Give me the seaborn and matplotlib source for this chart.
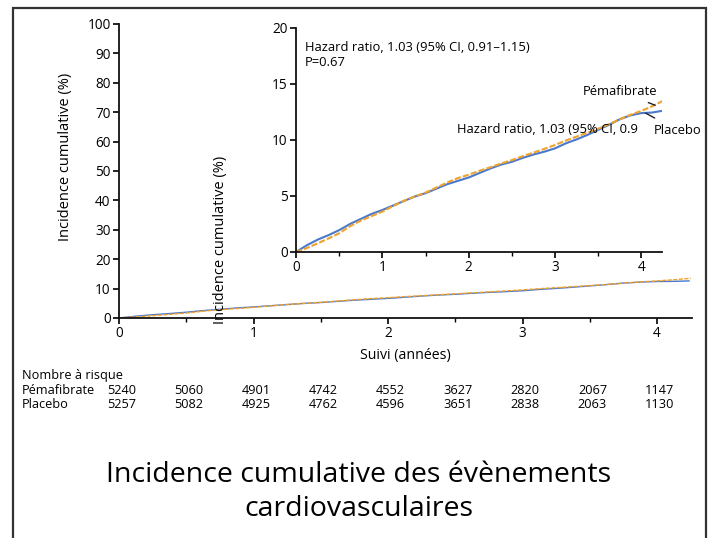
import numpy as np
import pandas as pd
import matplotlib
matplotlib.use("Agg")
import matplotlib.pyplot as plt
from matplotlib.ticker import MultipleLocator
from matplotlib.patches import Rectangle
from matplotlib.transforms import blended_transform_factory
import seaborn as sns

# Cumulative incidence (%) by follow-up year, per treatment arm
annees_placebo = [0, 0.125, 0.25, 0.375, 0.5, 0.625, 0.75, 0.875, 1.0, 1.125, 1.25, 1.375,
                  1.5, 1.625, 1.75, 1.875, 2.0, 2.125, 2.25, 2.375, 2.5, 2.625, 2.75, 2.875,
                  3.0, 3.125, 3.25, 3.375, 3.5, 3.625, 3.75, 3.875, 4.0, 4.125, 4.24]
incidence_placebo = [0, 0.6, 1.1, 1.5, 1.95, 2.5, 2.95, 3.4, 3.75, 4.15, 4.55, 4.95,
                     5.25, 5.65, 6.05, 6.35, 6.65, 7.05, 7.45, 7.8, 8.05, 8.4, 8.7, 8.95,
                     9.25, 9.7, 10.05, 10.45, 10.9, 11.35, 11.85, 12.2, 12.4, 12.45, 12.6]
annees_pema = [0, 0.125, 0.25, 0.375, 0.5, 0.625, 0.75, 0.875, 1.0, 1.125, 1.25, 1.375,
               1.5, 1.625, 1.75, 1.875, 2.0, 2.125, 2.25, 2.375, 2.5, 2.625, 2.75, 2.875,
               3.0, 3.125, 3.25, 3.375, 3.5, 3.625, 3.75, 3.875, 4.0, 4.125, 4.25]
incidence_pema = [0, 0.35, 0.77, 1.2, 1.67, 2.3, 2.8, 3.2, 3.6, 4.1, 4.58, 4.95,
                  5.3, 5.75, 6.2, 6.6, 6.9, 7.25, 7.56, 7.9, 8.2, 8.55, 8.87, 9.2,
                  9.55, 9.95, 10.3, 10.65, 11.0, 11.4, 11.85, 12.25, 12.6, 13.0, 13.5]

# Number at risk table
temps_risque = [0, 0.5, 1.0, 1.5, 2.0, 2.5, 3.0, 3.5, 4.0]
risque_pema = [5240, 5060, 4901, 4742, 4552, 3627, 2820, 2067, 1147]
risque_placebo = [5257, 5082, 4925, 4762, 4596, 3651, 2838, 2063, 1130]

groupes = ["Placebo", "Pémafibrate"]
couleurs = {"Placebo": "#4a78cc", "Pémafibrate": "#f0a22e"}
tirets = {"Placebo": "", "Pémafibrate": (3, 1)}

df = pd.concat([
    pd.DataFrame({"annees": annees_placebo, "incidence": incidence_placebo, "groupe": "Placebo"}),
    pd.DataFrame({"annees": annees_pema, "incidence": incidence_pema, "groupe": "Pémafibrate"}),
], ignore_index=True)

sns.set_theme(style="ticks")
plt.rcParams["font.family"] = ["Open Sans", "DejaVu Sans"]
plt.rcParams["text.color"] = "black"
plt.rcParams["axes.labelcolor"] = "black"
plt.rcParams["xtick.color"] = "black"
plt.rcParams["ytick.color"] = "black"

fig = plt.figure(figsize=(7.14, 5.38), dpi=100)
fig.patch.set_facecolor("white")

ax = fig.add_axes([0.1667, 0.409, 0.8025, 0.5465])
ax_in = fig.add_axes([0.4146, 0.5316, 0.5126, 0.4164])


def style_axes(a, xmax, ymax, ystep):
    a.set_facecolor("none")
    sns.despine(ax=a)
    for s in ("left", "bottom"):
        a.spines[s].set_linewidth(1.3)
        a.spines[s].set_color("#111111")
    a.set_xlim(0, xmax)
    a.set_ylim(0, ymax)
    a.xaxis.set_major_locator(MultipleLocator(1))
    a.xaxis.set_minor_locator(MultipleLocator(0.5))
    a.yaxis.set_major_locator(MultipleLocator(ystep))
    a.tick_params(which="major", direction="out", length=4, width=1.2, labelsize=9.8, pad=2)
    a.tick_params(which="minor", direction="out", length=3, width=1.0)
    a.set_xlabel("")
    a.set_ylabel("")


# Full-scale view
sns.lineplot(data=df, x="annees", y="incidence", hue="groupe", style="groupe",
             hue_order=groupes, style_order=groupes, palette=couleurs, dashes=tirets,
             estimator=None, sort=False, linewidth=1.0, legend=False, ax=ax)
style_axes(ax, 4.26, 100, 10)
ax.set_xlabel("Suivi (années)", fontsize=10.2, labelpad=5)
ax.set_ylabel("Incidence cumulative (%)", fontsize=10.5)
ax.yaxis.set_label_coords(-0.080, 0.548)

# Zoomed inset
sns.lineplot(data=df, x="annees", y="incidence", hue="groupe", style="groupe",
             hue_order=groupes, style_order=groupes, palette=couleurs, dashes=tirets,
             estimator=None, sort=False, linewidth=1.5, legend=False, ax=ax_in)
style_axes(ax_in, 4.24, 20, 5)
ax_in.set_ylabel("Incidence cumulative (%)", fontsize=10.5)
ax_in.yaxis.set_label_coords(-0.186, 0.054)

fs_note = 9.4
ax_in.text(0.024, 0.913, "Hazard ratio, 1.03 (95% CI, 0.91–1.15)", transform=ax_in.transAxes,
           fontsize=fs_note, ha="left", va="center")
ax_in.text(0.024, 0.846, "P=0.67", transform=ax_in.transAxes,
           fontsize=fs_note, ha="left", va="center")
ax_in.text(0.441, 0.545, "Hazard ratio, 1.03 (95% CI, 0.9", transform=ax_in.transAxes,
           fontsize=fs_note, ha="left", va="center", clip_on=False)

ax_in.annotate("Pémafibrate", xy=(4.16, 13.1), xytext=(3.75, 14.35),
               fontsize=fs_note, ha="center", va="center", annotation_clip=False,
               arrowprops=dict(arrowstyle="-", color="#222222", lw=1.0,
                               shrinkA=3, shrinkB=0))
ax_in.annotate("Placebo", xy=(4.05, 12.4), xytext=(4.42, 10.85),
               fontsize=fs_note, ha="center", va="center", annotation_clip=False,
               arrowprops=dict(arrowstyle="-", color="#222222", lw=1.0,
                               shrinkA=4, shrinkB=0))

# Number at risk
fs_tab = 9.2
tr = blended_transform_factory(ax.transData, fig.transFigure)
fig.text(22 / 714, 1 - 376 / 538, "Nombre à risque", fontsize=fs_tab, ha="left", va="center")
y_rows = [1 - 390 / 538, 1 - 404 / 538]
for nom, valeurs, yr in zip(["Pémafibrate", "Placebo"], [risque_pema, risque_placebo], y_rows):
    fig.text(22 / 714, yr, nom, fontsize=fs_tab, ha="left", va="center")
    for t, v in zip(temps_risque, valeurs):
        ax.text(t + 0.02, yr, str(v), transform=tr, fontsize=fs_tab, ha="center", va="center")

# Title
fig.text(0.502, 1 - 475 / 538, "Incidence cumulative des évènements",
         fontsize=20.5, ha="center", va="center")
fig.text(0.502, 1 - 509 / 538, "cardiovasculaires",
         fontsize=20.5, ha="center", va="center")

# Slide frame
fig.patches.append(Rectangle((13 / 714, -0.05), (706 - 13) / 714, 1.05 - 7.5 / 538,
                             transform=fig.transFigure, fill=False,
                             edgecolor="#333333", linewidth=1.6, clip_on=False))

fig.savefig("out.png", dpi=100, facecolor="white")
